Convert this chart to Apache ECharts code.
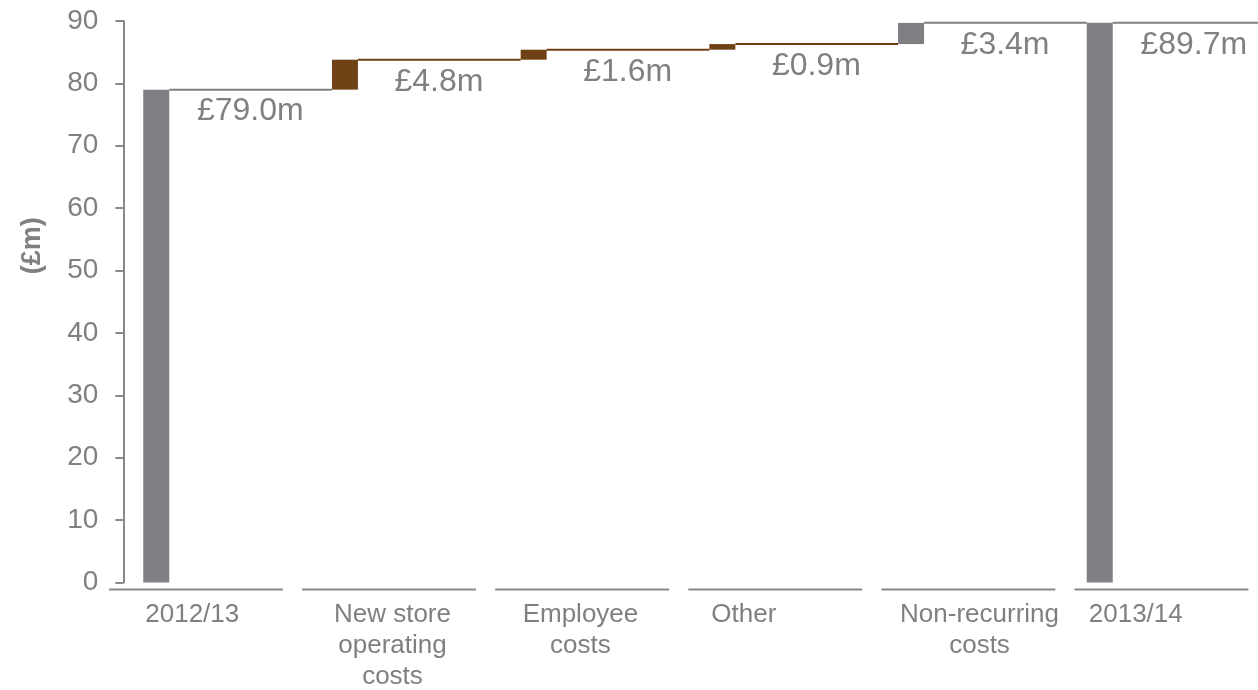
<!DOCTYPE html>
<html><head><meta charset="utf-8">
<script src="https://cdn.jsdelivr.net/npm/echarts@6/dist/echarts.min.js"></script>
<style>html,body{margin:0;padding:0;background:#fff}#c{width:1258px;height:690px}</style>
</head><body><div id="c"></div>
<script>
// ---- data ----
const categories = ['2012/13', 'New store\noperating\ncosts', 'Employee\ncosts', 'Other', 'Non-recurring\ncosts', '2013/14'];
const values = [79.0, 4.8, 1.6, 0.9, 3.4, 89.7];
const kinds = ['total', 'change', 'change', 'change', 'other', 'total'];
const yMin = 0, yMax = 90, yStep = 10;
const yName = '(£m)';

// ---- styles ----
const FONT = 'Liberation Sans, Arial, Helvetica, sans-serif';
const GREY = '#7f7f84';
const BROWN = '#6f4215';
const TEXT = '#808080';
const AXIS = '#88888c';
const barColor = {total: GREY, change: BROWN, other: GREY};
const BAR_W = 26;

// running totals
const bases = [], tops = [];
let run = 0;
values.forEach((v, i) => {
  if (kinds[i] === 'total') { bases.push(0); tops.push(v); run = v; }
  else { bases.push(+run.toFixed(2)); run = +(run + v).toFixed(2); tops.push(run); }
});
const fmt = v => '£' + v.toFixed(1) + 'm';
const idx = categories.map((c, i) => i);

const TOP = 21, BOTTOM = 107.5;

const chart = echarts.init(document.getElementById('c'), null, {renderer: 'canvas'});
chart.setOption({
  animation: false,
  backgroundColor: '#fff',
  textStyle: {fontFamily: FONT},
  grid: [
    {left: 61.9, right: 63.9, top: TOP, bottom: BOTTOM},   // bars
    {left: 99.4, right: -0.6, top: TOP, bottom: BOTTOM},   // axis segments + y axis
    {left: 50.9, right: 74.9, top: TOP, bottom: BOTTOM}    // category labels
  ],
  xAxis: [
    {gridIndex: 0, type: 'category', data: categories, show: false},
    {gridIndex: 1, type: 'category', data: categories, show: false},
    {gridIndex: 2, type: 'category', data: categories, boundaryGap: true,
      axisLine: {show: false}, axisTick: {show: false},
      axisLabel: {
        interval: 0, align: 'left', margin: 18, color: TEXT,
        formatter: v => v.split('\n').map(s => '{c|' + s + '}').join('\n'),
        rich: {c: {align: 'center', fontSize: 26, lineHeight: 31, color: TEXT, fontFamily: FONT}}
      }}
  ],
  yAxis: [
    {gridIndex: 0, type: 'value', min: yMin, max: yMax, interval: yStep, show: false},
    {gridIndex: 1, type: 'value', min: yMin, max: yMax, interval: yStep, offset: -24,
      axisLine: {show: true, lineStyle: {color: AXIS, width: 2}},
      axisTick: {show: true, length: 8, lineStyle: {color: AXIS, width: 2}},
      axisLabel: {color: TEXT, fontSize: 28, margin: 25, fontFamily: FONT},
      splitLine: {show: false},
      name: yName, nameLocation: 'middle', nameRotate: 90, nameGap: 77,
      nameTextStyle: {color: TEXT, fontSize: 27, fontWeight: 'bold', fontFamily: FONT, padding: [0, 0, 0, 112]}},
    {gridIndex: 2, type: 'value', min: yMin, max: yMax, show: false}
  ],
  series: [
    {type: 'bar', xAxisIndex: 0, yAxisIndex: 0, stack: 'w', barWidth: BAR_W, silent: true,
      itemStyle: {color: 'transparent'}, data: bases},
    {type: 'bar', xAxisIndex: 0, yAxisIndex: 0, stack: 'w', barWidth: BAR_W,
      data: values.map((v, i) => ({value: v, itemStyle: {color: barColor[kinds[i]]}}))},
    {type: 'custom', xAxisIndex: 0, yAxisIndex: 0, z: 5,
      data: tops.map((t, i) => [i, t]),
      renderItem: (params, api) => {
        const i = api.value(0), lvl = api.value(1);
        const p = api.coord([i, lvl]);
        const x1 = p[0] + BAR_W / 2;
        const x2 = i < categories.length - 1 ? api.coord([i + 1, lvl])[0] - BAR_W / 2 : api.getWidth();
        return {type: 'group', children: [
          {type: 'line', shape: {x1: x1, y1: p[1], x2: x2, y2: p[1]},
            style: {stroke: barColor[kinds[i]], lineWidth: 2}},
          {type: 'text', x: p[0] + 94, y: p[1] + 22,
            style: {text: fmt(values[i]), fill: TEXT, fontSize: 32, fontFamily: FONT,
              align: 'center', verticalAlign: 'middle'}}
        ]};
      }},
    {type: 'custom', xAxisIndex: 1, yAxisIndex: 1,
      data: idx.map(i => [i, 0]),
      renderItem: (params, api) => {
        const p = api.coord([api.value(0), 0]);
        const w = api.size([1, 0])[0];
        return {type: 'line', shape: {x1: p[0] - w / 2 + 9.6, y1: p[1] + 7, x2: p[0] + w / 2 - 9.6, y2: p[1] + 7},
          style: {stroke: AXIS, lineWidth: 2}};
      }}
  ]
});
</script>
</body></html>
